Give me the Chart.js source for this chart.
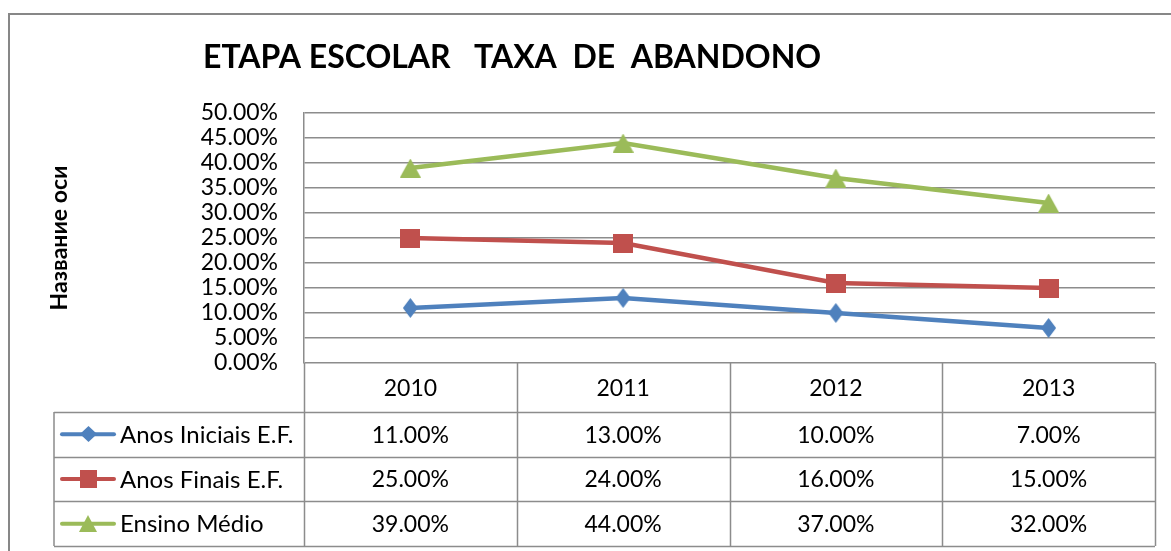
<!DOCTYPE html>
<html><head><meta charset="utf-8">
<script src="https://cdn.jsdelivr.net/npm/chart.js@4.4.1/dist/chart.umd.min.js"></script>
<style>html,body{margin:0;padding:0;background:#fff;overflow:hidden}</style>
</head><body>
<canvas id="c" width="1171" height="551"></canvas>
<script>
const categories = ['2010', '2011', '2012', '2013'];
const seriesNames = ['Anos Iniciais E.F.', 'Anos Finais E.F.', 'Ensino Médio'];
const anosIniciais = [11, 13, 10, 7];
const anosFinais = [25, 24, 16, 15];
const ensinoMedio = [39, 44, 37, 32];
const yMin = 0, yMax = 50, yStep = 5;
const chartTitle = 'ETAPA ESCOLAR   TAXA  DE  ABANDONO';
const yAxisTitle = 'Название оси';

const FONT = 'Lato';
const GRID = '#8c8c8c';
const colors = ['#4F81BD', '#C0504D', '#9BBB59'];
const seriesValues = [anosIniciais, anosFinais, ensinoMedio];
const fmt = v => v.toFixed(2) + '%';

function makeMarker(kind, color, w, h) {
  const c = document.createElement('canvas');
  c.width = w; c.height = h;
  const g = c.getContext('2d');
  g.fillStyle = color;
  g.beginPath();
  if (kind === 'diamond') {
    g.moveTo(w / 2, 0); g.lineTo(w, h / 2); g.lineTo(w / 2, h); g.lineTo(0, h / 2);
  } else if (kind === 'square') {
    g.rect(0, 0, w, h);
  } else {
    g.moveTo(w / 2, 0); g.lineTo(w, h); g.lineTo(0, h);
  }
  g.closePath();
  g.fill();
  return c;
}
const markers = [
  makeMarker('diamond', colors[0], 15, 20),
  makeMarker('square', colors[1], 20, 19),
  makeMarker('triangle', colors[2], 21, 19)
];
const keyMarkers = [
  makeMarker('diamond', colors[0], 17, 16),
  makeMarker('square', colors[1], 17, 18),
  makeMarker('triangle', colors[2], 18, 17)
];

const framePlugin = {
  id: 'frame',
  beforeDraw(chart) {
    const ctx = chart.ctx;
    ctx.save();
    ctx.fillStyle = '#fff';
    ctx.fillRect(0, 0, chart.width, chart.height);
    ctx.strokeStyle = '#878787';
    ctx.lineWidth = 2;
    ctx.strokeRect(9, 14, 1300, 700);
    ctx.fillStyle = '#000';
    ctx.font = 'bold 32px ' + FONT;
    ctx.textAlign = 'left';
    ctx.textBaseline = 'middle';
    ctx.fillText(chartTitle, 203, 58);
    ctx.restore();
  }
};

const tablePlugin = {
  id: 'dataTable',
  afterDraw(chart) {
    const ctx = chart.ctx, xs = chart.scales.x, a = chart.chartArea;
    const half = (xs.getPixelForValue(1) - xs.getPixelForValue(0)) / 2;
    const top = a.bottom, headBottom = top + 49, rowH = 44.7;
    const tableLeft = 54;
    const bottom = headBottom + rowH * seriesNames.length;
    ctx.save();
    ctx.strokeStyle = GRID;
    ctx.lineWidth = 1.5;
    ctx.beginPath();
    for (let i = 0; i <= categories.length; i++) {
      const x = Math.round(xs.getPixelForValue(0) - half + i * 2 * half) + 0.5;
      ctx.moveTo(x, top); ctx.lineTo(x, bottom);
    }
    ctx.moveTo(tableLeft, headBottom); ctx.lineTo(tableLeft, bottom);
    for (let r = 0; r <= seriesNames.length; r++) {
      const y = Math.round(headBottom + r * rowH) + 0.5;
      ctx.moveTo(tableLeft, y); ctx.lineTo(a.right, y);
    }
    ctx.stroke();

    ctx.textBaseline = 'middle';
    seriesNames.forEach((name, r) => {
      const cy = headBottom + r * rowH + rowH / 2;
      ctx.strokeStyle = colors[r];
      ctx.lineWidth = 4;
      ctx.lineCap = 'round';
      ctx.beginPath(); ctx.moveTo(62, cy); ctx.lineTo(114, cy); ctx.stroke();
      const m = keyMarkers[r];
      ctx.drawImage(m, Math.round(88 - m.width / 2), Math.round(cy - m.height / 2));
      ctx.fillStyle = '#000';
      ctx.textAlign = 'left';
      ctx.font = '24px ' + FONT;
      ctx.fillText(name, 120, cy + 1);
      ctx.textAlign = 'center';
      ctx.font = '23px ' + FONT;
      seriesValues[r].forEach((v, i) => {
        ctx.fillText(fmt(v), xs.getPixelForValue(i), cy + 1);
      });
    });
    ctx.restore();
  }
};

new Chart(document.getElementById('c'), {
  type: 'line',
  data: {
    labels: categories,
    datasets: seriesNames.map((n, i) => ({
      label: n,
      data: seriesValues[i],
      borderColor: colors[i],
      backgroundColor: colors[i],
      borderWidth: 4.5,
      pointStyle: markers[i],
      pointRadius: 10,
      tension: 0
    }))
  },
  options: {
    responsive: false,
    animation: false,
    devicePixelRatio: 1,
    layout: {padding: {left: 0, top: 113, right: 16, bottom: 0}},
    plugins: {legend: {display: false}, tooltip: {enabled: false}, title: {display: false}},
    scales: {
      x: {
        offset: true,
        grid: {display: false, drawTicks: false},
        border: {display: false},
        ticks: {padding: 12, color: '#000', font: {family: FONT, size: 23}, maxRotation: 0},
        afterFit(s) { s.height = 551 - 363; }
      },
      y: {
        min: yMin, max: yMax,
        ticks: {stepSize: yStep, autoSkip: false, padding: 26, color: '#000', font: {family: FONT, size: 23}, callback: v => fmt(v)},
        grid: {color: GRID, lineWidth: 1.5, drawTicks: false},
        border: {display: true, color: GRID, width: 1.5},
        title: {display: true, text: yAxisTitle, color: '#000', font: {family: FONT, size: 23, weight: 'bold'}, padding: {top: 46, bottom: 0}},
        afterFit(s) { s.width = 304; }
      }
    }
  },
  plugins: [framePlugin, tablePlugin]
});
</script>
</body></html>
